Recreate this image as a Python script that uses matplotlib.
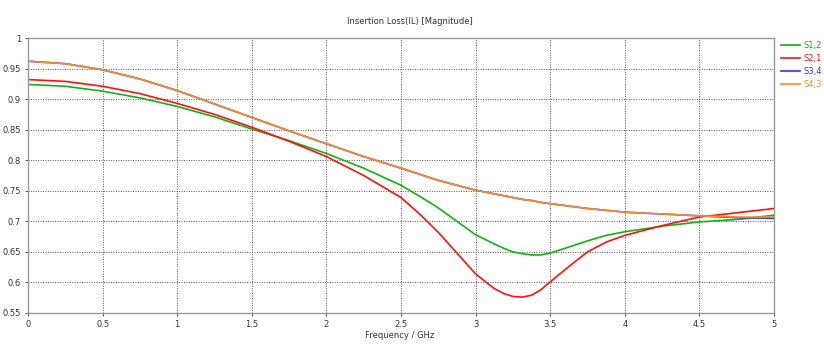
import matplotlib
matplotlib.use("Agg")
import matplotlib.pyplot as plt

freq = [0, 0.25, 0.5, 0.75, 1.0, 1.25, 1.5, 1.75, 2.0, 2.25, 2.5, 2.625, 2.75, 2.875,
        3.0, 3.125, 3.1875, 3.25, 3.3125, 3.375, 3.4375, 3.5, 3.625, 3.75, 3.875, 4.0,
        4.25, 4.5, 4.75, 5.0]

s12 = [0.924, 0.921, 0.913, 0.902, 0.888, 0.871, 0.851, 0.832, 0.811, 0.787, 0.759, 0.741,
       0.722, 0.700, 0.678, 0.663, 0.656, 0.650, 0.647, 0.645, 0.645, 0.648, 0.658,
       0.668, 0.677, 0.683, 0.692, 0.699, 0.703, 0.710]
s21 = [0.932, 0.929, 0.921, 0.909, 0.893, 0.875, 0.854, 0.831, 0.806, 0.775, 0.739, 0.712,
       0.682, 0.648, 0.614, 0.590, 0.582, 0.577, 0.576, 0.579, 0.588, 0.601, 0.626,
       0.650, 0.666, 0.677, 0.693, 0.707, 0.714, 0.721]
s43 = [0.962, 0.958, 0.948, 0.933, 0.914, 0.892, 0.870, 0.848, 0.827, 0.806, 0.787, 0.777,
       0.767, 0.759, 0.751, 0.745, 0.742, 0.739, 0.736, 0.734, 0.731, 0.729, 0.725,
       0.721, 0.718, 0.715, 0.712, 0.709, 0.707, 0.707]
s34 = [0.962, 0.958, 0.948, 0.933, 0.914, 0.892, 0.870, 0.848, 0.827, 0.806, 0.787, 0.777,
       0.767, 0.759, 0.751, 0.745, 0.742, 0.739, 0.736, 0.734, 0.731, 0.729, 0.725,
       0.721, 0.718, 0.715, 0.712, 0.709, 0.706, 0.705]

xticks = [0, 0.5, 1, 1.5, 2, 2.5, 3, 3.5, 4, 4.5, 5]
xticklabels = ["0", "0.5", "1", "1.5", "2", "2.5", "3", "3.5", "4", "4.5", "5"]
yticks = [0.55, 0.6, 0.65, 0.7, 0.75, 0.8, 0.85, 0.9, 0.95, 1.0]
yticklabels = ["0.55", "0.6", "0.65", "0.7", "0.75", "0.8", "0.85", "0.9", "0.95", "1"]

fig = plt.figure(figsize=(8.24, 3.49), dpi=100)
ax = fig.add_axes([28/824, 1-313/349, (774-28)/824, (313-38)/349])

ax.plot(freq, s12, color="#13b213", lw=1.2, label="S1,2")
ax.plot(freq, s21, color="#ff1010", lw=1.2, label="S2,1")
ax.plot(freq, s34, color="#3030ff", lw=1.2, label="S3,4")
ax.plot(freq, s43, color="#ff8c1a", lw=1.2, label="S4,3")

ax.set_xlim(0, 5)
ax.set_ylim(0.55, 1.0)
ax.set_xticks(xticks)
ax.set_xticklabels(xticklabels)
ax.set_yticks(yticks)
ax.set_yticklabels(yticklabels)
ax.tick_params(labelsize=6, length=2, width=0.6, colors="#333333", pad=3)
ax.grid(True, color="#555555", linestyle=(0, (1, 1.5)), linewidth=0.7)
for s in ax.spines.values():
    s.set_color("#999999")
    s.set_linewidth(1.0)

fig.text(410/824, 1-21/349, "Insertion Loss(IL) [Magnitude]", ha="center", va="center",
         fontsize=6, color="#333333")
fig.text(400/824, 1-336/349, "Frequency / GHz", ha="center", va="center",
         fontsize=6, color="#333333")

leg = fig.legend(loc="upper left", bbox_to_anchor=(778/824, 1-38/349), frameon=False,
                 fontsize=6, handlelength=2.2, handletextpad=0.5, labelspacing=0.45,
                 labelcolor="linecolor", borderaxespad=0)

fig.savefig("out.png", dpi=100)
